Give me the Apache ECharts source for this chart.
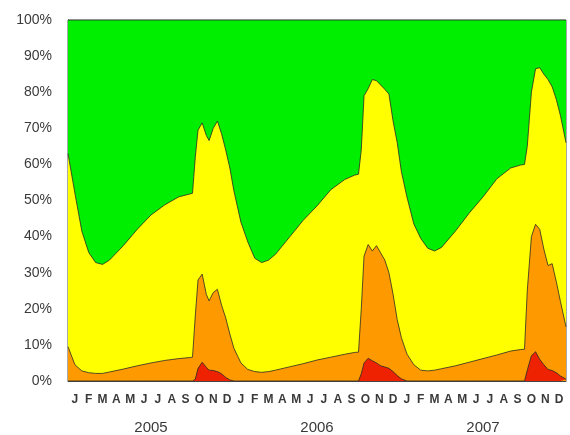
<!DOCTYPE html>
<html>
<head>
<meta charset="utf-8">
<script src="https://cdn.jsdelivr.net/npm/echarts@6/dist/echarts.min.js"></script>
<style>
html,body{margin:0;padding:0;background:#fff;}
#chart{width:570px;height:435px;}
</style>
</head>
<body>
<div id="chart"></div>
<script>
// time in months since start of Jan 2005
var t = [0, 0.5, 1, 1.5, 2, 2.5, 3, 4, 5, 6, 7, 8, 8.8, 9.0, 9.2, 9.4, 9.7, 10.0, 10.2, 10.5, 10.8, 11.1, 11.4, 11.7, 12.0, 12.5, 13.0, 13.5, 14.0, 14.5, 15, 16, 17, 18, 19, 20, 20.7, 21.0, 21.2, 21.4, 21.7, 22.0, 22.3, 22.6, 22.9, 23.2, 23.5, 23.8, 24.1, 24.5, 25, 25.5, 26, 26.5, 27, 28, 29, 30, 31, 32, 32.7, 33.0, 33.2, 33.5, 33.8, 34.1, 34.4, 34.7, 35.0, 35.3, 35.6, 36];

// cumulative share (%) at the top of each band
var yellowTop = [63, 52, 41.5, 35.6, 32.8, 32.3, 33.5, 37.5, 42, 46, 48.8, 51, 51.8, 52, 62, 69.5, 71.5, 68, 66.6, 70, 72, 68.5, 64, 59, 52.5, 44, 38.5, 34, 32.8, 33.5, 35.1, 39.8, 44.5, 48.5, 53, 55.8, 57, 57.3, 64, 79, 81, 83.5, 83.2, 82, 80.8, 79.5, 72, 66, 58, 51, 43.5, 39.5, 36.8, 36, 37, 41.5, 46.5, 51, 56, 59, 59.8, 60, 65, 80, 86.5, 86.8, 85, 83.5, 81.5, 78, 73.5, 66];
var orangeTop = [9.5, 4.5, 2.8, 2.3, 2.1, 2.1, 2.5, 3.3, 4.2, 5.0, 5.7, 6.2, 6.5, 6.6, 18, 28, 29.6, 24, 22.2, 24.5, 25.4, 21, 17.5, 13, 9, 5, 3.2, 2.6, 2.4, 2.6, 3.0, 3.9, 4.8, 5.8, 6.6, 7.4, 7.9, 8.0, 20, 34.6, 37.8, 36, 37.5, 35.5, 33.5, 30, 24, 17, 12, 7.5, 4.5, 3.0, 2.8, 3.0, 3.4, 4.2, 5.2, 6.2, 7.2, 8.3, 8.7, 8.8, 25, 40, 43.4, 42, 36.5, 32, 32.5, 27.5, 22, 15];
var redTop = [0, 0, 0, 0, 0, 0, 0, 0, 0, 0, 0, 0, 0, 0, 0.5, 3.5, 5.2, 3.8, 3.0, 2.9, 2.6, 2.0, 1.0, 0.3, 0, 0, 0, 0, 0, 0, 0, 0, 0, 0, 0, 0, 0, 0, 2, 5, 6.3, 5.6, 5.0, 4.2, 3.9, 3.5, 2.6, 1.5, 0.6, 0, 0, 0, 0, 0, 0, 0, 0, 0, 0, 0, 0, 0, 3, 7, 8.1, 6, 4.5, 3.2, 2.9, 2.3, 1.4, 0.5];
var greenTop = t.map(function(){ return 100; });

var months = ['J','F','M','A','M','J','J','A','S','O','N','D',
              'J','F','M','A','M','J','J','A','S','O','N','D',
              'J','F','M','A','M','J','J','A','S','O','N','D'];
var years = ['2005', '2006', '2007'];
var yTicks = [0, 10, 20, 30, 40, 50, 60, 70, 80, 90, 100];

function pairs(arr){ return t.map(function(x, i){ return [x, arr[i]]; }); }

function band(name, arr, color){
  return {
    name: name, type: 'line', xAxisIndex: 0, yAxisIndex: 0,
    data: pairs(arr), showSymbol: false, symbol: 'none', smooth: false,
    lineStyle: { color: '#2a2a2a', width: 0.8 },
    areaStyle: { color: color, opacity: 1, origin: 'start' },
    silent: true, animation: false
  };
}

var chart = echarts.init(document.getElementById('chart'), null, { renderer: 'canvas' });
chart.setOption({
  animation: false,
  backgroundColor: '#ffffff',
  grid: { left: 68, right: 4, top: 20, bottom: 53, show: true, borderColor: '#555', borderWidth: 1, backgroundColor: 'transparent' },
  xAxis: [
    { type: 'value', min: 0, max: 36, position: 'bottom',
      axisLine: { show: true, lineStyle: { color: '#444' } },
      axisTick: { show: false }, axisLabel: { show: false }, splitLine: { show: false } },
    { type: 'category', data: months, position: 'bottom', boundaryGap: true,
      axisLine: { show: false }, axisTick: { show: false }, splitLine: { show: false },
      axisLabel: { interval: 0, margin: 13, color: '#3a3a3a', fontSize: 12, fontWeight: 'bold', fontFamily: 'Liberation Sans, Arial, sans-serif' } },
    { type: 'category', data: years, position: 'bottom', offset: 26, boundaryGap: true,
      axisLine: { show: false }, axisTick: { show: false }, splitLine: { show: false },
      axisLabel: { interval: 0, margin: 13, color: '#3a3a3a', fontSize: 15, fontFamily: 'Liberation Sans, Arial, sans-serif' } }
  ],
  yAxis: [
    { type: 'value', min: yTicks[0], max: yTicks[yTicks.length - 1], interval: 10,
      axisLine: { show: true, lineStyle: { color: '#444' } },
      axisTick: { show: true, inside: true, length: 3, lineStyle: { color: '#444' } },
      splitLine: { show: false },
      axisLabel: { formatter: '{value}%', margin: 16, color: '#3a3a3a', fontSize: 14, fontFamily: 'Liberation Sans, Arial, sans-serif' } }
  ],
  series: [
    band('Green', greenTop, '#00ee00'),
    band('Yellow', yellowTop, '#ffff00'),
    band('Orange', orangeTop, '#ff9900'),
    band('Red', redTop, '#ee2200')
  ]
});
</script>
</body>
</html>
